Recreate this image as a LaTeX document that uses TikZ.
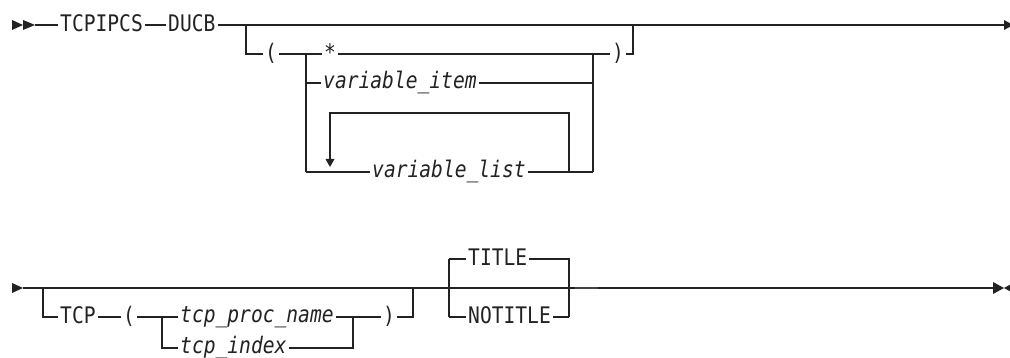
\documentclass[tikz,border=0pt]{standalone}
\usepackage{fontspec}
\newfontfamily\rrfont[FakeStretch=0.86]{DejaVu Sans Mono}
\definecolor{ink}{HTML}{222222}
\begin{document}
\begin{tikzpicture}[x=1pt,y=-1pt,
  rr/.style={line width=1.2pt,draw=ink},
  kw/.style={inner xsep=2pt,inner ysep=0pt,text height=13.4pt,text depth=0pt,anchor=west,text=ink,font=\rrfont\fontsize{22.8}{22.8}\selectfont},
  var/.style={kw,text height=11.5pt,font=\rrfont\itshape\fontsize{22.8}{22.8}\selectfont},
  tip/.style={fill=ink,draw=none}]
\useasboundingbox (0,0) rectangle (1010,358);
% ---------- row 1 ----------
\fill[tip] (12,20) -- (23,25) -- (12,30) -- cycle;
\fill[tip] (23,20) -- (35,25) -- (23,30) -- cycle;
\coordinate (a0) at (35,25);
\node[kw] (tcpipcs) at (58,25) {TCPIPCS};
\node[kw] (ducb) at (166,25) {DUCB};
\coordinate (a1) at (246,25);
\coordinate (aend) at (1004,25);
\draw[rr] (a0) -- (tcpipcs);
\draw[rr] (tcpipcs) -- (ducb);
\draw[rr] (ducb) -- (aend);
\fill[tip] (1004,20) -- (1013,25) -- (1004,30) -- cycle;
\coordinate (b1) at (246,54);
\node[kw] (lp) at (263,54) {(};
\coordinate (c1) at (306,54);
\coordinate (c2) at (306,83);
\coordinate (c3) at (306,172);
\node[kw] (star) at (322,54) {*};
\coordinate (d1) at (593,54);
\coordinate (d2) at (593,83);
\coordinate (d3) at (593,172);
\node[kw] (rp) at (610,54) {)};
\coordinate (e1) at (633,54);
\coordinate (e0) at (633,25);
\draw[rr] (a1) -- (b1) -- (lp);
\draw[rr] (lp) -- (c1) -- (star);
\draw[rr] (star) -- (d1) -- (rp);
\draw[rr] (rp) -- (e1) -- (e0);
\draw[rr] (c1) -- (c3);
\draw[rr] (d1) -- (d3);
\node[var] (vitem) at (321,83) {variable\_item};
\draw[rr] (c2) -- (vitem);
\draw[rr] (vitem) -- (d2);
\node[var] (vlist) at (370,172) {variable\_list};
\draw[rr] (c3) -- (vlist);
\draw[rr] (vlist) -- (d3);
\coordinate (l1) at (569,172);
\coordinate (l2) at (569,113);
\coordinate (l3) at (330,113);
\coordinate (l4) at (330,160);
\draw[rr] (l1) -- (l2) -- (l3) -- (l4);
\fill[tip] (325.5,159) -- (334.5,159) -- (330,167) -- cycle;
% ---------- row 2 ----------
\fill[tip] (12,283) -- (23,288) -- (12,293) -- cycle;
\coordinate (r0) at (23,288);
\coordinate (r1) at (43,288);
\coordinate (r2) at (43,317);
\coordinate (rend) at (993,288);
\draw[rr] (r0) -- (rend);
\fill[tip] (993,282) -- (1004,288) -- (993,294) -- cycle;
\fill[tip] (1004,288) -- (1013,283) -- (1013,293) -- cycle;
\node[kw] (tcp) at (58,317) {TCP};
\node[kw] (lp2) at (121,317) {(};
\coordinate (t1) at (162,317);
\coordinate (t2) at (162,348);
\node[var] (pname) at (178,317) {tcp\_proc\_name};
\node[var] (pidx) at (178,348) {tcp\_index};
\coordinate (u1) at (353,317);
\coordinate (u2) at (353,348);
\node[kw] (rp2) at (381,317) {)};
\coordinate (v1) at (413,317);
\coordinate (v0) at (413,288);
\draw[rr] (r1) -- (r2) -- (tcp);
\draw[rr] (tcp) -- (lp2);
\draw[rr] (lp2) -- (t1) -- (pname);
\draw[rr] (pname) -- (u1) -- (rp2);
\draw[rr] (rp2) -- (v1) -- (v0);
\draw[rr] (t1) -- (t2) -- (pidx);
\draw[rr] (pidx) -- (u2) -- (u1);
\coordinate (w1) at (449,259);
\coordinate (w2) at (449,317);
\node[kw] (title) at (466,259) {TITLE};
\node[kw] (notitle) at (466,317) {NOTITLE};
\coordinate (x1) at (569,259);
\coordinate (x2) at (569,317);
\draw[rr] (w1) -- (w2);
\draw[rr] (w1) -- (title);
\draw[rr] (title) -- (x1) -- (x2);
\draw[rr] (w2) -- (notitle);
\draw[rr] (notitle) -- (x2);
\coordinate (k1) at (575,288);
\coordinate (k2) at (598,288);
\draw[line width=2pt,draw=ink!85] (k1) -- (k2);
\end{tikzpicture}
\end{document}
